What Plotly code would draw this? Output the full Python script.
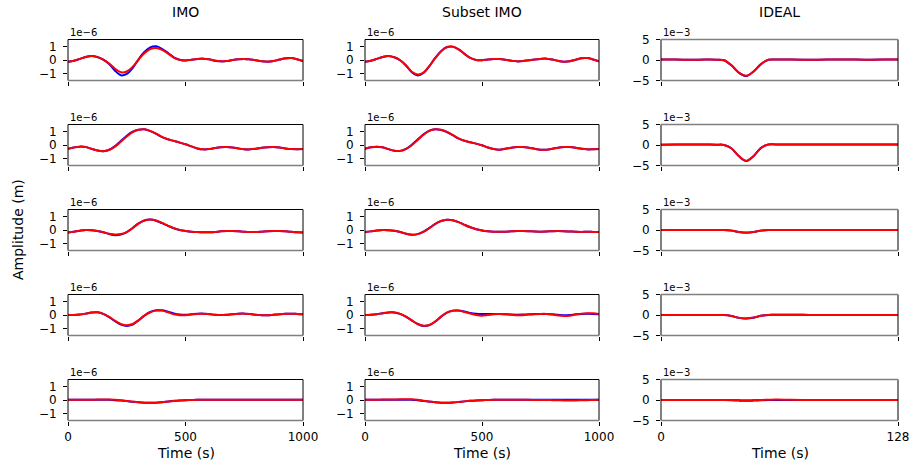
import plotly.graph_objects as go

# ---------------- data ----------------
col_titles = ["IMO", "Subset IMO", "IDEAL"]
offset_texts = ["1e\u22126", "1e\u22126", "1e\u22123"]
y_label = "Amplitude (m)"
x_label = "Time (s)"

t_imo = list(range(0, 1001, 25))          # seconds (IMO / Subset IMO)
t_ideal = [0, 8, 16, 24, 30, 34, 38, 42, 46, 50, 54, 58, 62, 70, 80, 90, 100, 110, 120, 128]

imo_xticks = [0, 500, 1000]
ideal_xticks = [0, 128]
imo_yticks = [-1, 0, 1]
imo_yticktext = ["\u22121", "0", "1"]
ideal_yticks = [-5, 0, 5]
ideal_yticktext = ["\u22125", "0", "5"]

# IMO column (units of 1e-6 m)
imo_blue = [
    [-0.12, -0.05, 0.08, 0.22, 0.30, 0.22, 0.02, -0.30, -0.78, -1.12, -1.02, -0.60, 0.05, 0.58, 0.92, 1.00, 0.82, 0.52, 0.20, 0.02, -0.04, 0.02,
     0.08, 0.10, 0.05, -0.05, -0.10, -0.08, 0.00, 0.06, 0.08, 0.04, -0.02, -0.09, -0.12, -0.07, 0.03, 0.12, 0.14, 0.05, -0.08],
    [-0.28, -0.18, -0.12, -0.15, -0.28, -0.40, -0.45, -0.35, -0.08, 0.30, 0.68, 0.97, 1.12, 1.15, 1.02, 0.82, 0.58, 0.42, 0.30, 0.18, 0.05,
     -0.10, -0.25, -0.32, -0.30, -0.22, -0.16, -0.15, -0.18, -0.25, -0.31, -0.32, -0.28, -0.20, -0.16, -0.15, -0.18, -0.25, -0.30, -0.31, -0.30],
    [-0.18, -0.12, -0.05, 0.00, -0.01, -0.07, -0.17, -0.30, -0.38, -0.33, -0.15, 0.15, 0.48, 0.70, 0.76, 0.68, 0.50, 0.30, 0.13, 0.00, -0.07,
     -0.12, -0.15, -0.17, -0.17, -0.15, -0.10, -0.08, -0.08, -0.10, -0.13, -0.15, -0.15, -0.12, -0.09, -0.08, -0.08, -0.10, -0.13, -0.16, -0.18],
    [0.00, 0.00, 0.03, 0.10, 0.18, 0.20, 0.08, -0.15, -0.45, -0.70, -0.80, -0.70, -0.40, -0.05, 0.22, 0.34, 0.34, 0.24, 0.12, 0.04, 0.02,
     0.05, 0.09, 0.10, 0.07, 0.02, 0.00, 0.02, 0.06, 0.09, 0.10, 0.07, 0.02, -0.02, -0.02, 0.02, 0.06, 0.09, 0.10, 0.08, 0.05],
    [0.02, 0.02, 0.02, 0.02, 0.02, 0.02, 0.02, 0.01, -0.01, -0.04, -0.08, -0.13, -0.17, -0.20, -0.21, -0.20, -0.16, -0.11, -0.06, -0.03, -0.01,
     0.00, 0.01, 0.01, 0.01, 0.01, 0.01, 0.02, 0.02, 0.02, 0.02, 0.02, 0.02, 0.02, 0.02, 0.02, 0.02, 0.02, 0.02, 0.02, 0.02],
]
imo_red = [
    [-0.12, -0.05, 0.08, 0.22, 0.29, 0.21, 0.02, -0.26, -0.64, -0.90, -0.84, -0.50, 0.02, 0.50, 0.80, 0.88, 0.74, 0.48, 0.18, 0.01, -0.04, 0.02,
     0.07, 0.09, 0.05, -0.04, -0.09, -0.08, 0.00, 0.06, 0.08, 0.04, -0.02, -0.09, -0.11, -0.07, 0.03, 0.11, 0.14, 0.05, -0.08],
    [-0.28, -0.18, -0.12, -0.15, -0.28, -0.40, -0.45, -0.37, -0.12, 0.24, 0.62, 0.94, 1.11, 1.15, 1.03, 0.83, 0.59, 0.42, 0.30, 0.18, 0.05,
     -0.10, -0.25, -0.32, -0.30, -0.22, -0.16, -0.15, -0.18, -0.25, -0.31, -0.32, -0.28, -0.20, -0.16, -0.15, -0.18, -0.25, -0.30, -0.31, -0.30],
    [-0.18, -0.12, -0.05, 0.00, -0.01, -0.07, -0.16, -0.27, -0.33, -0.30, -0.15, 0.13, 0.46, 0.69, 0.76, 0.69, 0.52, 0.32, 0.14, 0.01, -0.07,
     -0.12, -0.15, -0.17, -0.17, -0.15, -0.10, -0.08, -0.08, -0.10, -0.13, -0.15, -0.15, -0.12, -0.09, -0.08, -0.08, -0.10, -0.13, -0.16, -0.18],
    [0.00, 0.00, 0.03, 0.10, 0.18, 0.20, 0.08, -0.14, -0.42, -0.66, -0.75, -0.66, -0.38, -0.05, 0.20, 0.32, 0.32, 0.20, 0.06, -0.01, -0.01,
     0.04, 0.08, 0.09, 0.06, 0.02, 0.00, 0.02, 0.06, 0.09, 0.10, 0.07, 0.02, -0.02, -0.02, 0.02, 0.06, 0.09, 0.10, 0.08, 0.05],
    [0.02, 0.02, 0.02, 0.02, 0.02, 0.03, 0.03, 0.03, 0.01, -0.02, -0.07, -0.12, -0.17, -0.20, -0.21, -0.20, -0.17, -0.12, -0.07, -0.03, -0.01,
     0.00, 0.01, 0.01, 0.01, 0.01, 0.01, 0.01, 0.02, 0.02, 0.02, 0.02, 0.02, 0.02, 0.02, 0.02, 0.02, 0.02, 0.02, 0.02, 0.02],
]

# Subset IMO column (units of 1e-6 m)
sub_blue = [
    [-0.12, -0.05, 0.08, 0.22, 0.30, 0.20, -0.02, -0.40, -0.90, -1.13, -0.95, -0.45, 0.15, 0.65, 0.95, 0.98, 0.78, 0.45, 0.15, 0.00, -0.02,
     0.04, 0.08, 0.07, 0.02, -0.05, -0.10, -0.08, -0.02, 0.04, 0.08, 0.10, 0.04, -0.06, -0.12, -0.09, 0.02, 0.13, 0.14, 0.04, -0.10],
    [-0.28, -0.17, -0.12, -0.17, -0.30, -0.42, -0.43, -0.28, 0.02, 0.40, 0.78, 1.05, 1.15, 1.10, 0.95, 0.72, 0.47, 0.31, 0.20, 0.10, -0.02,
     -0.18, -0.30, -0.34, -0.28, -0.20, -0.15, -0.15, -0.20, -0.28, -0.34, -0.34, -0.28, -0.20, -0.15, -0.15, -0.20, -0.28, -0.32, -0.31, -0.30],
    [-0.15, -0.10, -0.04, 0.00, -0.01, -0.06, -0.15, -0.28, -0.35, -0.30, -0.12, 0.15, 0.45, 0.66, 0.75, 0.72, 0.58, 0.38, 0.20, 0.06, -0.03,
     -0.09, -0.12, -0.13, -0.12, -0.10, -0.08, -0.08, -0.09, -0.11, -0.12, -0.11, -0.09, -0.08, -0.09, -0.11, -0.13, -0.14, -0.13, -0.14, -0.15],
    [0.00, 0.02, 0.06, 0.13, 0.19, 0.19, 0.08, -0.12, -0.40, -0.66, -0.80, -0.74, -0.48, -0.12, 0.18, 0.32, 0.33, 0.25, 0.15, 0.09, 0.07,
     0.07, 0.08, 0.08, 0.06, 0.03, 0.02, 0.03, 0.05, 0.07, 0.08, 0.08, 0.05, 0.01, -0.02, 0.00, 0.05, 0.08, 0.09, 0.08, 0.06],
    [0.02, 0.02, 0.02, 0.02, 0.02, 0.02, 0.02, 0.02, 0.02, -0.02, -0.07, -0.12, -0.17, -0.20, -0.21, -0.19, -0.15, -0.10, -0.06, -0.03, -0.01,
     0.00, 0.01, 0.01, 0.02, 0.02, 0.02, 0.02, 0.02, 0.02, 0.02, 0.02, 0.02, 0.02, 0.02, 0.02, 0.02, 0.02, 0.02, 0.02, 0.02],
]
sub_red = [
    [-0.12, -0.05, 0.08, 0.22, 0.30, 0.20, -0.02, -0.38, -0.86, -1.06, -0.92, -0.45, 0.14, 0.63, 0.93, 0.97, 0.78, 0.45, 0.15, 0.00, -0.02,
     0.04, 0.08, 0.07, 0.02, -0.05, -0.10, -0.08, -0.02, 0.04, 0.08, 0.10, 0.04, -0.06, -0.12, -0.09, 0.02, 0.13, 0.14, 0.04, -0.10],
    [-0.28, -0.17, -0.12, -0.17, -0.30, -0.42, -0.43, -0.30, -0.02, 0.36, 0.75, 1.04, 1.15, 1.11, 0.96, 0.73, 0.48, 0.31, 0.20, 0.10, -0.02,
     -0.18, -0.30, -0.34, -0.28, -0.20, -0.15, -0.15, -0.20, -0.28, -0.34, -0.34, -0.28, -0.20, -0.15, -0.15, -0.20, -0.28, -0.32, -0.31, -0.30],
    [-0.15, -0.10, -0.04, 0.00, -0.01, -0.06, -0.15, -0.27, -0.34, -0.30, -0.13, 0.13, 0.44, 0.66, 0.75, 0.72, 0.58, 0.38, 0.20, 0.06, -0.03,
     -0.09, -0.12, -0.13, -0.12, -0.10, -0.08, -0.08, -0.09, -0.11, -0.12, -0.11, -0.09, -0.08, -0.09, -0.11, -0.13, -0.14, -0.13, -0.14, -0.15],
    [0.00, 0.02, 0.06, 0.13, 0.19, 0.19, 0.08, -0.12, -0.40, -0.66, -0.79, -0.73, -0.48, -0.12, 0.17, 0.31, 0.32, 0.22, 0.10, 0.00, -0.05,
     0.00, 0.06, 0.08, 0.06, 0.02, -0.02, -0.01, 0.03, 0.06, 0.08, 0.08, 0.04, -0.03, -0.07, -0.05, 0.03, 0.10, 0.13, 0.12, 0.07],
    [0.02, 0.02, 0.02, 0.03, 0.03, 0.04, 0.05, 0.05, 0.06, 0.02, -0.05, -0.11, -0.17, -0.20, -0.21, -0.19, -0.15, -0.10, -0.06, -0.03, -0.01,
     0.00, 0.01, 0.01, 0.01, 0.01, 0.01, 0.01, 0.01, 0.00, 0.00, 0.00, -0.01, -0.02, -0.03, -0.03, -0.03, -0.02, -0.01, 0.00, 0.01],
]

# IDEAL column (units of 1e-3 m)
ideal_blue = [
    [0.10, 0.12, 0.05, 0.10, 0.08, -0.05, -1.30, -3.10, -3.90, -2.80, -1.00, 0.05, 0.12, 0.10, 0.08, 0.10, 0.12, 0.08, 0.10, 0.10],
    [0.08, 0.10, 0.12, 0.10, 0.08, 0.02, -0.80, -2.70, -3.90, -2.70, -0.70, 0.10, 0.15, 0.12, 0.10, 0.12, 0.10, 0.12, 0.10, 0.12],
    [0.00, 0.00, 0.00, 0.00, 0.00, 0.00, -0.15, -0.50, -0.65, -0.50, -0.15, 0.01, 0.02, 0.02, 0.02, 0.02, 0.02, 0.02, 0.02, 0.02],
    [0.00, 0.00, 0.00, 0.00, 0.00, -0.02, -0.25, -0.70, -0.85, -0.65, -0.20, 0.03, 0.04, 0.04, 0.03, 0.03, 0.03, 0.03, 0.03, 0.03],
    [0.00, 0.00, 0.00, 0.00, 0.00, 0.00, -0.05, -0.15, -0.20, -0.15, -0.05, 0.00, 0.00, 0.00, 0.00, 0.00, 0.00, 0.00, 0.00, 0.00],
]
ideal_red = [
    [0.10, 0.12, 0.05, 0.10, 0.08, -0.05, -1.25, -3.05, -3.85, -2.80, -1.00, 0.05, 0.12, 0.10, 0.08, 0.10, 0.12, 0.08, 0.10, 0.10],
    [0.08, 0.10, 0.12, 0.10, 0.08, 0.02, -0.78, -2.68, -3.88, -2.72, -0.72, 0.10, 0.15, 0.12, 0.10, 0.12, 0.10, 0.12, 0.10, 0.12],
    [0.00, 0.00, 0.00, 0.00, 0.00, 0.00, -0.14, -0.48, -0.63, -0.48, -0.14, 0.01, 0.02, 0.02, 0.02, 0.02, 0.02, 0.02, 0.02, 0.02],
    [0.00, 0.00, 0.00, 0.00, 0.00, -0.02, -0.23, -0.68, -0.83, -0.63, -0.20, 0.03, 0.04, 0.04, 0.03, 0.03, 0.03, 0.03, 0.03, 0.03],
    [0.00, 0.00, 0.00, 0.00, 0.00, 0.00, 0.00, -0.03, -0.05, -0.03, 0.00, 0.05, 0.10, 0.05, 0.00, 0.00, 0.02, 0.00, 0.02, 0.00],
]

# ---------------- layout geometry (pixels) ----------------
W, H = 911, 461
COLS = [(68, 303), (365, 599), (661, 898)]
ROW_CENTERS = [60, 145, 230, 315, 400]
HALF = 20.5
FONT = "DejaVu Sans"

fig = go.Figure()
shapes, annotations = [], []
layout = dict(
    template="none",
    width=W, height=H, autosize=False,
    margin=dict(l=0, r=0, t=0, b=0, pad=0, autoexpand=False),
    paper_bgcolor="white", plot_bgcolor="white", showlegend=False,
    font=dict(family=FONT, size=12, color="black"),
)

columns = [
    (t_imo, imo_blue, imo_red, [0, 1000], imo_xticks, [-1.5, 1.5], imo_yticks, imo_yticktext),
    (t_imo, sub_blue, sub_red, [0, 1000], imo_xticks, [-1.5, 1.5], imo_yticks, imo_yticktext),
    (t_ideal, ideal_blue, ideal_red, [0, 128], ideal_xticks, [-5, 5], ideal_yticks, ideal_yticktext),
]

for r, cy in enumerate(ROW_CENTERS):
    for c, (x0, x1) in enumerate(COLS):
        i = r * 3 + c + 1
        sfx = "" if i == 1 else str(i)
        tx, blues, reds, xr, xt, yr, yt, ytt = columns[c]
        fig.add_trace(go.Scatter(x=tx, y=blues[r], mode="lines", line=dict(color="#0000ff", width=2, shape="spline", smoothing=1.0),
                                 xaxis="x" + sfx, yaxis="y" + sfx, hoverinfo="skip"))
        fig.add_trace(go.Scatter(x=tx, y=reds[r], mode="lines", line=dict(color="#ff0000", width=2, shape="spline", smoothing=1.0),
                                 xaxis="x" + sfx, yaxis="y" + sfx, hoverinfo="skip"))
        layout["xaxis" + sfx] = dict(
            domain=[x0 / W, x1 / W], anchor="y" + sfx, range=xr, tickmode="array", tickvals=xt,
            ticktext=[str(v) for v in xt], showticklabels=(r == 4), ticks="outside", ticklen=4, tickwidth=1,
            tickcolor="black", showgrid=False, zeroline=False, showline=False, fixedrange=True, automargin=False,
            ticklabelstandoff=1,
            tickfont=dict(family=FONT, size=12, color="black"),
        )
        layout["yaxis" + sfx] = dict(
            domain=[1 - (cy + HALF) / H, 1 - (cy - HALF) / H], anchor="x" + sfx, range=yr, tickmode="array",
            tickvals=yt, ticktext=ytt, ticks="outside", ticklen=4, tickwidth=1, tickcolor="black",
            showgrid=False, zeroline=False, showline=False, fixedrange=True, ticklabelstandoff=4, automargin=False,
            tickfont=dict(family=FONT, size=12, color="black"),
        )
        xref, yref = "x" + sfx + " domain", "y" + sfx + " domain"
        top_col = "#808080" if c == 2 else "black"
        for (ax0, ay0, ax1, ay1, col, w) in [(0, 0, 0, 1, "black", 1), (1, 0, 1, 1, "black", 1),
                                             (0, 1, 1, 1, top_col, 1.3 if c == 2 else 1), (0, 0, 1, 0, "#808080", 1.6)]:
            shapes.append(dict(type="line", xref=xref, yref=yref, x0=ax0, y0=ay0, x1=ax1, y1=ay1,
                               line=dict(color=col, width=w), layer="above"))
        annotations.append(dict(text=offset_texts[c], xref="paper", yref="paper", x=x0 / W, y=1 - (cy - 27.5) / H,
                                xanchor="left", yanchor="middle", showarrow=False,
                                font=dict(family=FONT, size=10, color="black")))

for c, (x0, x1) in enumerate(COLS):
    annotations.append(dict(text=col_titles[c], xref="paper", yref="paper", x=(x0 + x1) / 2 / W, y=1 - 12 / H,
                            xanchor="center", yanchor="middle", showarrow=False, font=dict(family=FONT, size=14, color="black")))
    annotations.append(dict(text=x_label, xref="paper", yref="paper", x=(x0 + x1) / 2 / W, y=1 - 453 / H,
                            xanchor="center", yanchor="middle", showarrow=False, font=dict(family=FONT, size=14, color="black")))

annotations.append(dict(text=y_label, xref="paper", yref="paper", x=18 / W, y=1 - 230 / H, textangle=-90,
                        xanchor="center", yanchor="middle", showarrow=False, font=dict(family=FONT, size=14, color="black")))

layout["shapes"] = shapes
layout["annotations"] = annotations
fig.update_layout(**layout)
fig.write_html("out.html", config={"displayModeBar": False, "responsive": False},
               post_script="document.body.style.margin='0';document.body.style.padding='0';")
